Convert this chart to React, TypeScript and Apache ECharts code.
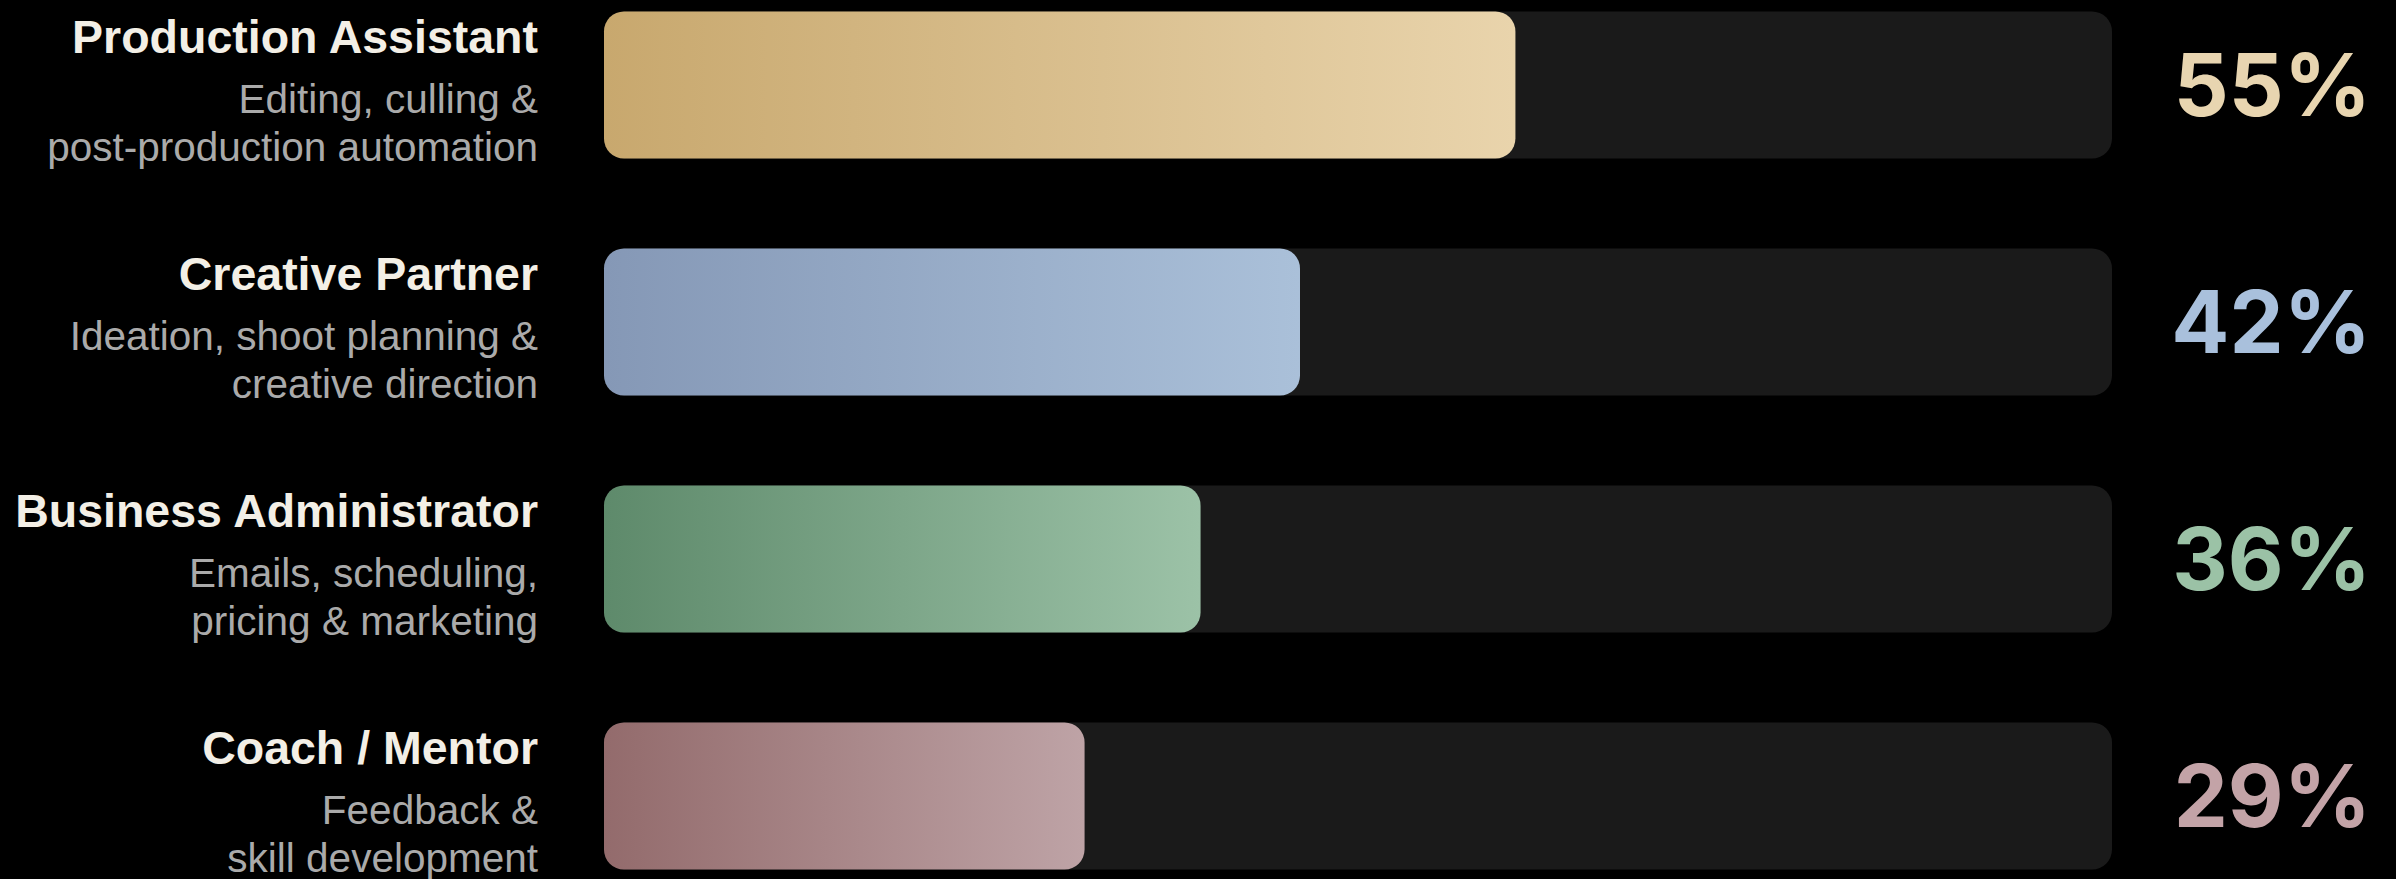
import React, { useEffect, useRef } from "react";
import * as echarts from "echarts";

const categories = ["Production Assistant", "Creative Partner", "Business Administrator", "Coach / Mentor"];
const subtitles = [
  ["Editing, culling &", "post-production automation"],
  ["Ideation, shoot planning &", "creative direction"],
  ["Emails, scheduling,", "pricing & marketing"],
  ["Feedback &", "skill development"],
];
const values = [55, 42, 36, 29];
const gradientStart = ["#c8a86e", "#8598b6", "#5e8a6b", "#936b6c"];
const gradientEnd = ["#e9d4ac", "#aac0d9", "#9cc2a7", "#bea3a6"];
const percentColors = ["#e8d5b0", "#a9c0dc", "#9bc2a6", "#c3a3a7"];
const valueMax = 91;

export default function App() {
  const ref = useRef<HTMLDivElement>(null);
  useEffect(() => {
    document.body.style.margin = "0";
    document.body.style.background = "#000";
    const chart = echarts.init(ref.current!, undefined, { renderer: "svg" });
    const pctRich: any = {};
    percentColors.forEach((c, i) => {
      pctRich["p" + i] = {
        color: c,
        fontFamily: "Inter",
        fontWeight: 700,
        fontSize: 86,
      };
    });
    chart.setOption({
      animation: false,
      backgroundColor: "#000000",
      grid: { left: 604, right: 284, top: 85, bottom: 83, containLabel: false },
      xAxis: {
        type: "value",
        min: 0,
        max: valueMax,
        show: false,
      },
      yAxis: [
        {
          type: "category",
          data: categories,
          inverse: true,
          boundaryGap: false,
          axisLine: { show: false },
          axisTick: { show: false },
          splitLine: { show: false },
          axisLabel: {
            margin: 66,
            align: "right",
            formatter: (v: string) => {
              const i = categories.indexOf(v);
              return `{t|${v}}\n{s|${subtitles[i][0]}}\n{s|${subtitles[i][1]}}`;
            },
            rich: {
              t: {
                fontFamily: "Liberation Sans",
                fontWeight: "bold",
                fontSize: 46.5,
                lineHeight: 76,
                color: "#f3efe6",
                align: "right",
              },
              s: {
                fontFamily: "Liberation Sans",
                fontSize: 40.5,
                lineHeight: 48,
                color: "#aaaaaa",
                align: "right",
              },
            },
          },
        },
        {
          type: "category",
          data: categories,
          inverse: true,
          boundaryGap: false,
          position: "right",
          axisLine: { show: false },
          axisTick: { show: false },
          splitLine: { show: false },
          axisLabel: {
            margin: 259,
            align: "right",
            formatter: (v: string) => {
              const i = categories.indexOf(v);
              return `{p${i}|${values[i]}%}`;
            },
            rich: pctRich,
          },
        },
      ],
      series: [
        {
          type: "bar",
          barWidth: 147,
          showBackground: true,
          backgroundStyle: { color: "#1a1a1a", borderRadius: 20 },
          data: values.map((v, i) => ({
            value: v,
            itemStyle: {
              borderRadius: 20,
              color: {
                type: "linear",
                x: 0,
                y: 0,
                x2: 1,
                y2: 0,
                colorStops: [
                  { offset: 0, color: gradientStart[i] },
                  { offset: 1, color: gradientEnd[i] },
                ],
              },
            },
          })),
        },
      ],
    });
    return () => chart.dispose();
  }, []);
  return <div ref={ref} style={{ position: "fixed", left: 0, top: 0, width: 2396, height: 879 }} />;
}
